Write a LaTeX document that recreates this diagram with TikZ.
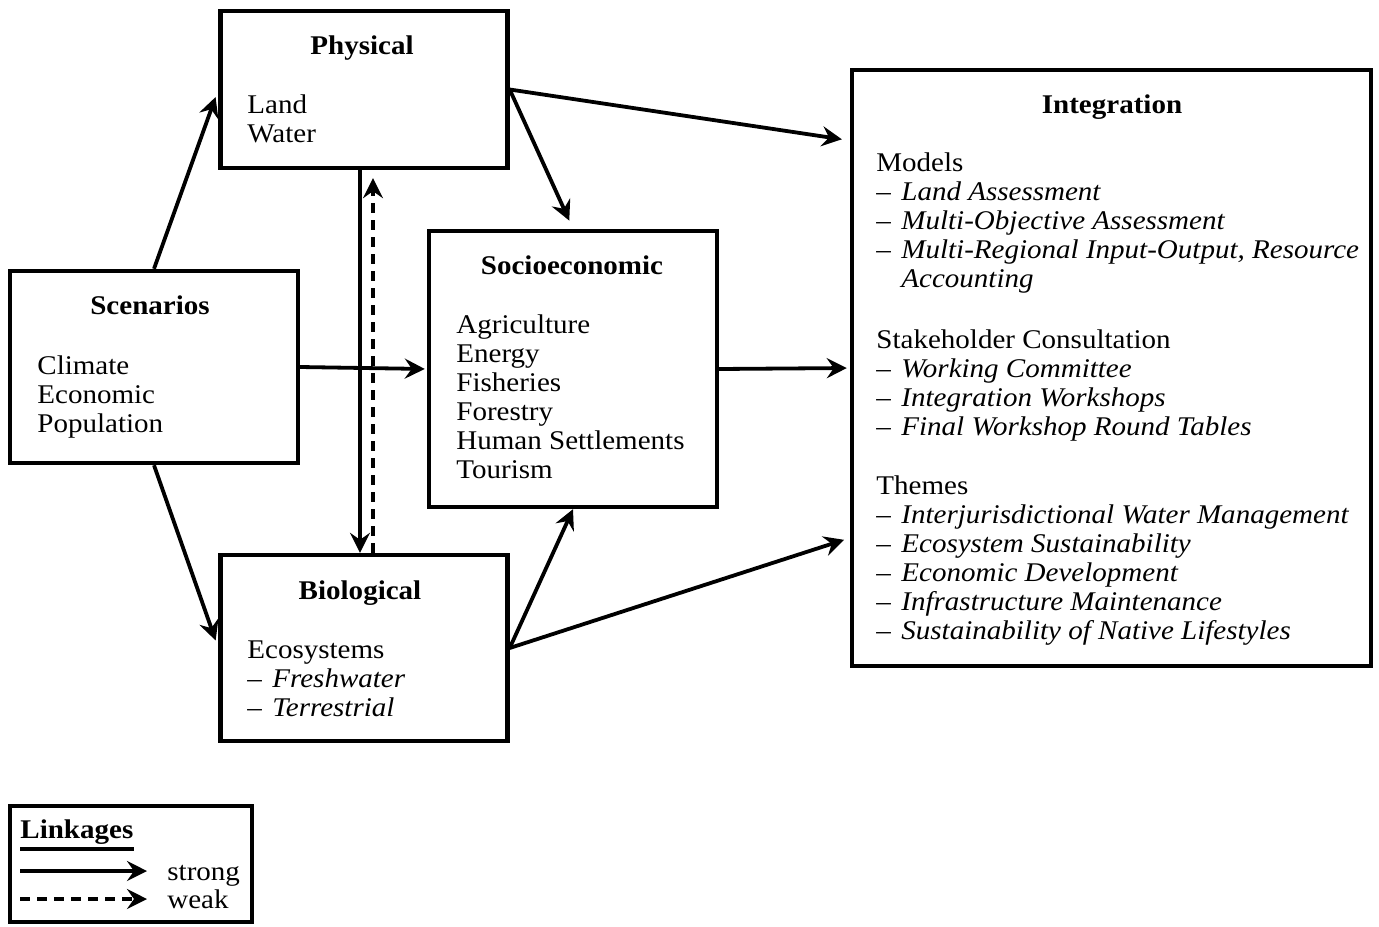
\documentclass[tikz,border=0pt]{standalone}
\usepackage{fontspec}
\setmainfont{Liberation Serif}[FakeStretch=1.075]
\usetikzlibrary{positioning,arrows.meta}
\newcommand{\litem}[1]{\makebox[12.5pt][l]{\textendash}\textit{#1}}

\begin{document}
\begin{tikzpicture}[x=0.5pt,y=-0.5pt]
      \tikzstyle{box}=[draw,line width=2.2pt,inner sep=0pt]
      % multi-line texts sit on the baseline of their last line
      \tikzstyle{txt}=[inner sep=0pt,align=left,anchor=base west,font=\fontsize{13.5}{14.5}\selectfont]
      \tikzstyle{title}=[inner sep=0pt,anchor=base,font=\fontsize{13.5}{14.5}\selectfont\bfseries]
      \tikzstyle{link}=[line width=1.9pt,-{Stealth[length=10pt,width=10pt,inset=3.5pt]}]
      \tikzstyle{weaklink}=[link,dash pattern=on 5pt off 3.5pt]
      \useasboundingbox (0,0) rectangle (1379,926);
      % Boxes
      \node (phys) at (364,89.5) [box,minimum width=143.5pt,minimum height=78.5pt] {};
      \node (scen) at (154,367) [box,minimum width=144pt,minimum height=96pt] {};
      \node (socio) at (573,369) [box,minimum width=144pt,minimum height=138pt] {};
      \node (bio) at (364,648) [box,minimum width=143.5pt,minimum height=93pt] {};
      \node (integ) at (1111.5,368) [box,minimum width=259.5pt,minimum height=298pt] {};
      % Box texts
      \node (physT) at (362,54) [title] {Physical};
      \node (physL) at (247,142) [txt] {Land\\Water};
      \node (scenT) at (150,314) [title] {Scenarios};
      \node (scenL) at (37,432) [txt] {Climate\\Economic\\Population};
      \node (socioT) at (572,274) [title] {Socioeconomic};
      \node (socioL) at (456,478) [txt] {Agriculture\\Energy\\Fisheries\\Forestry\\Human Settlements\\Tourism};
      \node (bioT) at (360,599) [title] {Biological};
      \node (bioL) at (247,716) [txt] {Ecosystems\\\litem{Freshwater}\\\litem{Terrestrial}};
      \node (integT) at (1112,113) [title] {Integration};
      \node (models) at (876,287) [txt] {Models\\\litem{Land Assessment}\\\litem{Multi-Objective Assessment}\\
        \litem{Multi-Regional Input-Output, Resource}\\\hspace*{12.5pt}\textit{Accounting}};
      \node (stake) at (876,435) [txt] {Stakeholder Consultation\\\litem{Working Committee}\\
        \litem{Integration Workshops}\\\litem{Final Workshop Round Tables}};
      \node (themes) at (876,639) [txt] {Themes\\\litem{Interjurisdictional Water Management}\\
        \litem{Ecosystem Sustainability}\\\litem{Economic Development}\\
        \litem{Infrastructure Maintenance}\\\litem{Sustainability of Native Lifestyles}};
      % Strong linkages
      \draw [link,shorten >=4pt] (scen.north) -- (phys.west);
      \draw [link,shorten >=4pt] (scen.south) -- (bio.west);
      \draw [link,shorten >=1pt] (scen.east) -- (socio.west);
      \draw [link,shorten >=4pt] (phys.east) -- (integ.139);
      \draw [link,shorten >=4.5pt] (phys.east) -- (socio.north);
      \draw [link] (bio.east) -- (socio.south);
      \draw [link,shorten >=3pt] (bio.east) -- (integ.213);
      \draw [link,shorten >=1.5pt] (socio.east) -- (integ.west);
      \draw [link] ([xshift=-2pt]phys.south) -- ([xshift=-2pt]bio.north);
      % Weak linkage
      \draw [weaklink,shorten >=4pt] ([xshift=4.5pt]bio.north) -- ([xshift=4.5pt]phys.south);
      % Legend
      \node (legend) at (131,864) [box,minimum width=121pt,minimum height=58pt] {};
      \node (linkT) at (20,838) [title,anchor=base west] {Linkages};
      \draw [line width=2pt] ([yshift=-5.25pt]linkT.base west) -- ([yshift=-5.25pt]linkT.base east);
      \coordinate (strong0) at (20,871);
      \coordinate (strong1) at (147,871);
      \draw [link] (strong0) -- (strong1);
      \node (strongT) at (167,880) [txt] {strong};
      \coordinate (weak0) at (20,899);
      \coordinate (weak1) at (147,899);
      \draw [weaklink] (weak0) -- (weak1);
      \node (weakT) at (167,908) [txt] {weak};
    \end{tikzpicture}
\end{document}
